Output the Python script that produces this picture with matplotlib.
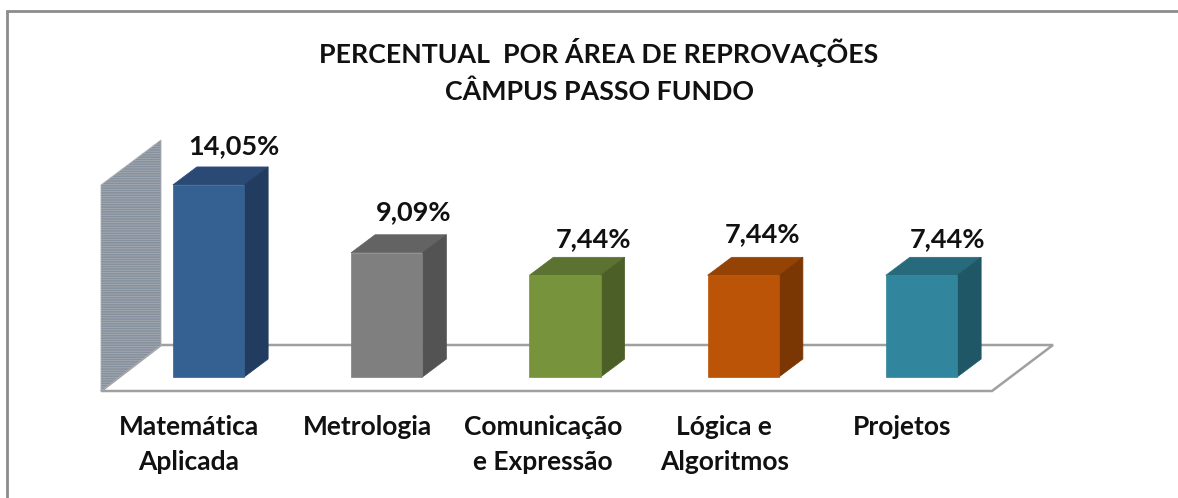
import matplotlib
matplotlib.use("Agg")
import matplotlib.pyplot as plt
from matplotlib.patches import Polygon

plt.rcParams['font.family'] = ['Lato', 'DejaVu Sans']

title = "PERCENTUAL  POR ÁREA DE REPROVAÇÕES\nCÂMPUS PASSO FUNDO"
categories = ["Matemática\nAplicada", "Metrologia", "Comunicação\ne Expressão", "Lógica e\nAlgoritmos", "Projetos"]
values = [14.05, 9.09, 7.44, 7.44, 7.44]
value_labels = ["14,05%", "9,09%", "7,44%", "7,44%", "7,44%"]
front_colors = ["#356092", "#7f7f7f", "#77933c", "#bb5407", "#31859c"]
top_colors = ["#2a4a75", "#636363", "#5c7230", "#954305", "#266a7c"]
side_colors = ["#213c5e", "#535353", "#4c5f27", "#7a3704", "#1f5767"]

W, H = 1178, 498
x0_px, x_step = 208.5, 178.25
y0_px, y_step = 377.0, 13.67
bar_w = 0.40
dx, dy = 24 / x_step, 18 / y_step


def px(x, y):
    # pixel position in the picture -> data units of the axes
    return (x - x0_px) / x_step, (y0_px - y) / y_step


fig = plt.figure(figsize=(W / 100, H / 100), dpi=100)
ax = fig.add_axes([0, 0, 1, 1])
ax.set_xlim(px(0, 0)[0], px(W, 0)[0])
ax.set_ylim(px(0, H)[1], px(0, 0)[1])
ax.axis("off")

# outer frame, only top and left are visible
ax.plot(*zip(px(7.5, H), px(7.5, 11.5), px(W, 11.5)), color="#8c8c8c", lw=2.0, solid_joinstyle="miter")

# floor
floor = [px(101, 391), px(161, 345), px(1053, 345), px(992, 391)]
ax.add_patch(Polygon(floor, closed=True, facecolor="white", edgecolor="#a0a0a0", lw=1.8, zorder=1))

# wall
wall = [px(101, 391), px(161, 345), px(161, 140), px(101, 185)]
plt.rcParams['hatch.linewidth'] = 0.5
ax.add_patch(Polygon(wall, closed=True, facecolor="#87919e", edgecolor="#a9aeb5", hatch="-------", lw=0.6, zorder=2))

for i, v in enumerate(values):
    l, r = i - bar_w / 2, i + bar_w / 2
    ax.bar(i, v, width=bar_w, color=front_colors[i], edgecolor=front_colors[i], lw=0.5, zorder=4)
    ax.add_patch(Polygon([(l, v), (l + dx, v + dy), (r + dx, v + dy), (r, v)], closed=True,
                         facecolor=top_colors[i], edgecolor=top_colors[i], lw=0.5, zorder=3))
    ax.add_patch(Polygon([(r, 0), (r + dx, dy), (r + dx, v + dy), (r, v)], closed=True,
                         facecolor=side_colors[i], edgecolor=side_colors[i], lw=0.5, zorder=3))

# value labels sit at slightly different spots in the original
label_off_x = [25, 27, 28, 19, 26]
label_y = [146, 212, 239, 234, 239]
for i, s in enumerate(value_labels):
    x, y = px(x0_px + i * x_step + label_off_x[i], label_y[i])
    ax.text(x, y, s, ha="center", va="center", fontsize=19.5, fontweight="bold", color="#111111", zorder=5)

cat_off_x = [-20, -19, -22, -19, -19]
for i, s in enumerate(categories):
    x, y = px(x0_px + i * x_step + cat_off_x[i], 415)
    ax.text(x, y, s, ha="center", va="top", fontsize=19, fontweight="bold", color="#111111",
            linespacing=1.55, zorder=5)

x, y = px(599, 71)
ax.text(x, y, title, ha="center", va="center", fontsize=19.3, fontweight="bold", color="#111111", linespacing=1.6)

fig.savefig("out.png", dpi=100, facecolor="white")
